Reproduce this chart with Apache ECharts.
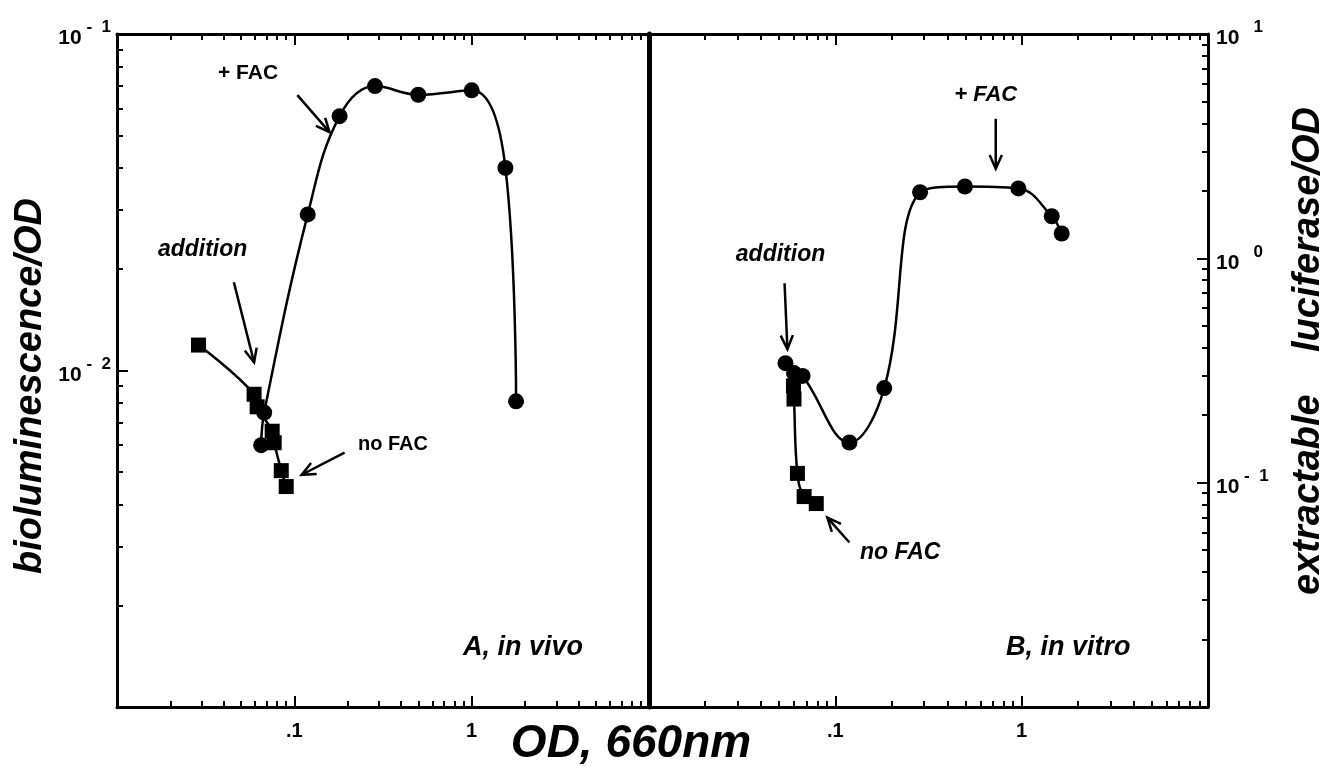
<!DOCTYPE html>
<html><head><meta charset="utf-8">
<script src="https://cdn.jsdelivr.net/npm/echarts@6/dist/echarts.min.js"></script>
<style>html,body{margin:0;padding:0;background:#fff}#c{width:1329px;height:767px}</style>
</head><body><div id="c"></div>
<script>
// ---------- data ----------
const vivoFacOD     = [0.065, 0.0676, 0.119, 0.18, 0.285, 0.50, 1.0, 1.55, 1.78];
const vivoFacLum    = [0.0060, 0.0075, 0.0291, 0.057, 0.070, 0.066, 0.068, 0.040, 0.0081];
const vivoNoFacOD   = [0.0288, 0.0593, 0.0617, 0.075, 0.077, 0.0844, 0.090];
const vivoNoFacLum  = [0.0119, 0.0085, 0.0078, 0.0066, 0.0061, 0.00504, 0.00452];
const vitroFacOD    = [0.054, 0.060, 0.0667, 0.119, 0.183, 0.285, 0.496, 0.96, 1.45, 1.64];
const vitroFacLuc   = [0.341, 0.308, 0.299, 0.151, 0.264, 1.97, 2.09, 2.05, 1.54, 1.29];
const vitroNoFacOD  = [0.0596, 0.060, 0.0626, 0.068, 0.079];
const vitroNoFacLuc = [0.27, 0.236, 0.11, 0.0867, 0.0807];

// tick labels (by decade exponent)
const xTickText  = {'-1': '.1', '0': '1'};
const yLeftExp   = [-1, -2];
const yRightExp  = [1, 0, -1];

// annotations, in data coordinates of each panel
const notesA = [
  {text: '+ FAC',      at: [0.0548, 0.0766]},
  {text: 'addition',   at: [0.0304, 0.0228]},
  {text: 'no FAC',     at: [0.36, 0.00603]},
  {text: 'A, in vivo', at: [1.95, 0.0015]}
];
const arrowsA = [
  [[0.104, 0.0658], [0.158, 0.0511]],
  [[0.0456, 0.0183], [0.0593, 0.01057]],
  [[0.192, 0.0057], [0.11, 0.0049]]
];
const notesB = [
  {text: 'addition',    at: [0.0508, 1.04]},
  {text: '+ FAC',       at: [0.641, 5.36]},
  {text: 'no FAC',      at: [0.223, 0.0489]},
  {text: 'B, in vitro', at: [1.78, 0.0185]}
];
const arrowsB = [
  [[0.0534, 0.774], [0.0553, 0.394]],
  [[0.726, 4.19], [0.726, 2.51]],
  [[0.119, 0.0541], [0.0906, 0.0699]]
];
const xTitle = 'OD, 660nm';
const yLeftTitle = 'bioluminescence/OD';
const yRightTitle = 'extractable    luciferase/OD';

// ---------- styles ----------
const FF = '"Liberation Sans", Arial, Helvetica, sans-serif';
const noteStyleA = [
  'bold 21px ' + FF, 'italic bold 23px ' + FF, 'bold 20px ' + FF, 'italic bold 27px ' + FF
];
const noteStyleB = [
  'italic bold 23px ' + FF, 'italic bold 22px ' + FF, 'italic bold 23px ' + FF, 'italic bold 27px ' + FF
];

const zip = (a, b) => a.map((v, i) => [v, b[i]]);
const exp10 = v => Math.round(Math.log10(v));

const tickCommon = {show: true, inside: true, length: 11, lineStyle: {color: '#000', width: 2}};
const minorCommon = {show: true, splitNumber: 9, length: 6, lineStyle: {color: '#000', width: 2}};
const lineCommon = {show: true, lineStyle: {color: '#000', width: 3}};

function xAx(grid, pos, labels) {
  return {
    type: 'log', logBase: 10, min: 0.01, max: 10, gridIndex: grid, position: pos,
    axisLine: lineCommon, axisTick: tickCommon, minorTick: minorCommon,
    splitLine: {show: false}, minorSplitLine: {show: false},
    axisLabel: labels ? {
      show: true, margin: 14, color: '#000', fontSize: 20, fontWeight: 'bold', fontFamily: FF,
      formatter: v => xTickText[String(exp10(v))] || ''
    } : {show: false}
  };
}

const supRich = {
  b: {fontSize: 21, fontWeight: 'bold', fontFamily: FF, color: '#000', verticalAlign: 'bottom', lineHeight: 30},
  s: {fontSize: 17, fontWeight: 'bold', fontFamily: FF, color: '#000', verticalAlign: 'top', lineHeight: 30, padding: [0, 0, 12, 0]}
};

const option = {
  backgroundColor: '#fff',
  animation: false,
  grid: [
    {left: 117, right: 680, top: 34, bottom: 60},
    {left: 649, right: 121, top: 34, bottom: 60}
  ],
  xAxis: [xAx(0, 'bottom', true), xAx(0, 'top', false), xAx(1, 'bottom', true), xAx(1, 'top', false)],
  yAxis: [
    {
      type: 'log', logBase: 10, min: 0.001, max: 0.1, gridIndex: 0, position: 'left',
      axisLine: lineCommon, axisTick: tickCommon, minorTick: minorCommon,
      splitLine: {show: false}, minorSplitLine: {show: false},
      axisLabel: {
        show: true, margin: 6, rich: supRich,
        formatter: v => { const e = exp10(v); return yLeftExp.includes(e) ? '{b|10}{s| -  ' + (-e) + '}' : ''; }
      }
    },
    {
      type: 'log', logBase: 10, min: 0.01, max: 10, gridIndex: 1, position: 'right',
      axisLine: lineCommon, axisTick: tickCommon, minorTick: minorCommon,
      splitLine: {show: false}, minorSplitLine: {show: false},
      axisLabel: {
        show: true, margin: 8, rich: supRich,
        formatter: v => { const e = exp10(v); if (!yRightExp.includes(e)) return ''; return '{b|10}{s|' + (e < 0 ? ' -  ' + (-e) : '   ' + e) + '}'; }
      }
    },
    {
      type: 'log', logBase: 10, min: 0.01, max: 10, gridIndex: 1, position: 'left',
      axisLine: {show: true, lineStyle: {color: '#000', width: 5}},
      axisTick: {show: false}, minorTick: {show: false}, axisLabel: {show: false}, splitLine: {show: false}
    }
  ],
  series: [
    {type: 'line', xAxisIndex: 0, yAxisIndex: 0, smooth: 0.4, data: zip(vivoFacOD, vivoFacLum),
     symbol: 'circle', symbolSize: 16, itemStyle: {color: '#000'}, lineStyle: {color: '#000', width: 2.5}, z: 3},
    {type: 'line', xAxisIndex: 0, yAxisIndex: 0, smooth: 0.4, data: zip(vivoNoFacOD, vivoNoFacLum),
     symbol: 'rect', symbolSize: 15, itemStyle: {color: '#000'}, lineStyle: {color: '#000', width: 2.5}, z: 3},
    {type: 'line', xAxisIndex: 2, yAxisIndex: 1, smooth: 0.4, data: zip(vitroFacOD, vitroFacLuc),
     symbol: 'circle', symbolSize: 16, itemStyle: {color: '#000'}, lineStyle: {color: '#000', width: 2.5}, z: 3},
    {type: 'line', xAxisIndex: 2, yAxisIndex: 1, smooth: 0.4, data: zip(vitroNoFacOD, vitroNoFacLuc),
     symbol: 'rect', symbolSize: 15, itemStyle: {color: '#000'}, lineStyle: {color: '#000', width: 2.5}, z: 3}
  ]
};

const chart = echarts.init(document.getElementById('c'), null, {renderer: 'canvas'});
chart.setOption(option);

function toPx(panel, pt) {
  return panel === 0
    ? chart.convertToPixel({xAxisIndex: 0, yAxisIndex: 0}, pt)
    : chart.convertToPixel({xAxisIndex: 2, yAxisIndex: 1}, pt);
}
function arrowEls(p, q) {
  const ang = Math.atan2(q[1] - p[1], q[0] - p[0]), L = 15, a = 0.42;
  const h1 = [q[0] - L * Math.cos(ang - a), q[1] - L * Math.sin(ang - a)];
  const h2 = [q[0] - L * Math.cos(ang + a), q[1] - L * Math.sin(ang + a)];
  return [
    {type: 'line', shape: {x1: p[0], y1: p[1], x2: q[0], y2: q[1]}, style: {stroke: '#000', lineWidth: 2.5}, z: 10},
    {type: 'polyline', shape: {points: [h1, q, h2]}, style: {stroke: '#000', lineWidth: 2.5, fill: null}, z: 10}
  ];
}
const els = [];
[[arrowsA, 0], [arrowsB, 1]].forEach(([arr, pnl]) => arr.forEach(a => els.push(...arrowEls(toPx(pnl, a[0]), toPx(pnl, a[1])))));
[[notesA, noteStyleA, 0], [notesB, noteStyleB, 1]].forEach(([notes, st, pnl]) => notes.forEach((n, i) => {
  const p = toPx(pnl, n.at);
  els.push({type: 'text', x: p[0], y: p[1], z: 10,
    style: {text: n.text, font: st[i], fill: '#000', align: 'center', verticalAlign: 'middle'}});
}));
els.push({type: 'text', x: 631, y: 744, z: 10,
  style: {text: xTitle, font: 'italic bold 46px ' + FF, fill: '#000', align: 'center', verticalAlign: 'middle'}});
els.push({type: 'text', x: 31, y: 386, rotation: Math.PI / 2, z: 10,
  style: {text: yLeftTitle, font: 'italic bold 38px ' + FF, fill: '#000', align: 'center', verticalAlign: 'middle'}});
els.push({type: 'text', x: 1309, y: 351, rotation: Math.PI / 2, z: 10,
  style: {text: yRightTitle, font: 'italic bold 38px ' + FF, fill: '#000', align: 'center', verticalAlign: 'middle'}});
chart.setOption({graphic: {elements: els}});
</script>
</body></html>
